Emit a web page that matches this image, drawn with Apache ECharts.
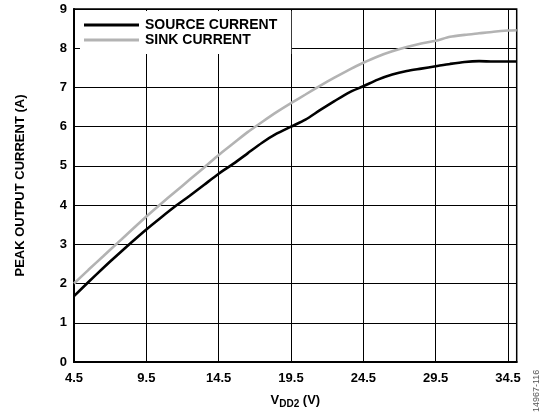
<!DOCTYPE html>
<html>
<head>
<meta charset="utf-8">
<script src="https://cdn.jsdelivr.net/npm/echarts@6/dist/echarts.min.js"></script>
<style>
  html, body { margin: 0; padding: 0; background: #fff; }
  #chart { width: 545px; height: 415px; }
</style>
</head>
<body>
<div id="chart"></div>
<script>
// Supply voltage VDD2 (V)
const vdd2 = [4.5, 5.5, 6.5, 7.5, 8.5, 9.5, 10.5, 11.5, 12.5, 13.5, 14.5, 15.5, 16.5, 17.5, 18.5,
  19.5, 20.5, 21.5, 22.5, 23.5, 24.5, 25.5, 26.5, 27.5, 28.5, 29.5, 30.5, 31.5, 32.5, 33.5, 34.5, 35.1];

// Peak source current (A)
const sourceCurrent = [1.68, 2.04, 2.39, 2.73, 3.06, 3.38, 3.68, 3.97, 4.24, 4.52, 4.80, 5.05, 5.32, 5.59, 5.82,
  6.00, 6.18, 6.42, 6.65, 6.87, 7.03, 7.20, 7.33, 7.42, 7.48, 7.54, 7.60, 7.65, 7.67, 7.66, 7.66, 7.66];

// Peak sink current (A)
const sinkCurrent = [2.00, 2.35, 2.69, 3.03, 3.37, 3.71, 4.03, 4.34, 4.65, 4.96, 5.28, 5.57, 5.86, 6.12, 6.37,
  6.60, 6.82, 7.04, 7.25, 7.45, 7.63, 7.79, 7.92, 8.03, 8.12, 8.19, 8.29, 8.34, 8.38, 8.42, 8.45, 8.46];

// Axis tick positions
const xTicks = [4.5, 9.5, 14.5, 19.5, 24.5, 29.5, 34.5];
const yTicks = [0, 1, 2, 3, 4, 5, 6, 7, 8, 9];

const FONT = '"Liberation Sans", Arial, Helvetica, sans-serif';

const pairs = (xs, ys) => xs.map((x, i) => [x, ys[i]]);

const chart = echarts.init(document.getElementById('chart'), null, { renderer: 'canvas' });

chart.setOption({
  animation: false,
  backgroundColor: '#fff',
  grid: {
    left: 74, top: 9, right: 28.3, bottom: 53,
    show: true, borderColor: '#000', borderWidth: 1.5, backgroundColor: 'transparent'
  },
  legend: {
    orient: 'vertical',
    left: 80, top: 11,
    padding: [7, 14, 7, 4],
    backgroundColor: '#fff',
    itemGap: 1,
    itemWidth: 55, itemHeight: 3,
    icon: 'rect',
    textStyle: { fontFamily: FONT, fontWeight: 'bold', fontSize: 14, color: '#000', padding: [0, 0, 0, 1] },
    data: ['SOURCE CURRENT', 'SINK CURRENT']
  },
  xAxis: {
    type: 'value',
    min: 4.5, max: 35.1,
    name: '{v|V}{sub|DD2}{v| (V)}',
    nameLocation: 'middle',
    nameGap: 30,
    nameTextStyle: {
      rich: {
        v: { fontFamily: FONT, fontWeight: 'bold', fontSize: 13, color: '#000' },
        sub: { fontFamily: FONT, fontWeight: 'bold', fontSize: 10, color: '#000', padding: [7, 0, 0, 0] }
      }
    },
    axisLine: { show: true, onZero: false, lineStyle: { color: '#000', width: 2 } },
    axisTick: { show: false, customValues: xTicks },
    axisLabel: {
      customValues: xTicks,
      margin: 10,
      fontFamily: FONT, fontWeight: 'bold', fontSize: 13, color: '#000',
      formatter: v => v.toFixed(1)
    },
    splitLine: { show: true, lineStyle: { color: '#000', width: 1 } }
  },
  yAxis: {
    type: 'value',
    min: 0, max: 9, interval: 1,
    name: 'PEAK OUTPUT CURRENT (A)',
    nameLocation: 'middle',
    nameRotate: 90,
    nameGap: 47,
    nameTextStyle: { fontFamily: FONT, fontWeight: 'bold', fontSize: 13, color: '#000' },
    axisLine: { show: true, lineStyle: { color: '#000', width: 2 } },
    axisTick: { show: false },
    axisLabel: {
      customValues: yTicks,
      margin: 7,
      fontFamily: FONT, fontWeight: 'bold', fontSize: 13, color: '#000'
    },
    splitLine: { show: true, lineStyle: { color: '#000', width: 1 } }
  },
  series: [
    {
      name: 'SOURCE CURRENT',
      type: 'line',
      data: pairs(vdd2, sourceCurrent),
      showSymbol: false, symbol: 'none',
      smooth: 0.25,
      color: '#000',
      lineStyle: { color: '#000', width: 2.6 },
      z: 3
    },
    {
      name: 'SINK CURRENT',
      type: 'line',
      data: pairs(vdd2, sinkCurrent),
      showSymbol: false, symbol: 'none',
      smooth: 0.25,
      color: '#b3b3b3',
      lineStyle: { color: '#b3b3b3', width: 2.6 },
      z: 2
    }
  ],
  graphic: [
    {
      type: 'text',
      x: 532, y: 412,
      rotation: Math.PI / 2,
      style: {
        text: '14967-116',
        fontFamily: FONT, fontSize: 9, fill: '#555',
        align: 'left', verticalAlign: 'top'
      }
    }
  ]
});
</script>
</body>
</html>
